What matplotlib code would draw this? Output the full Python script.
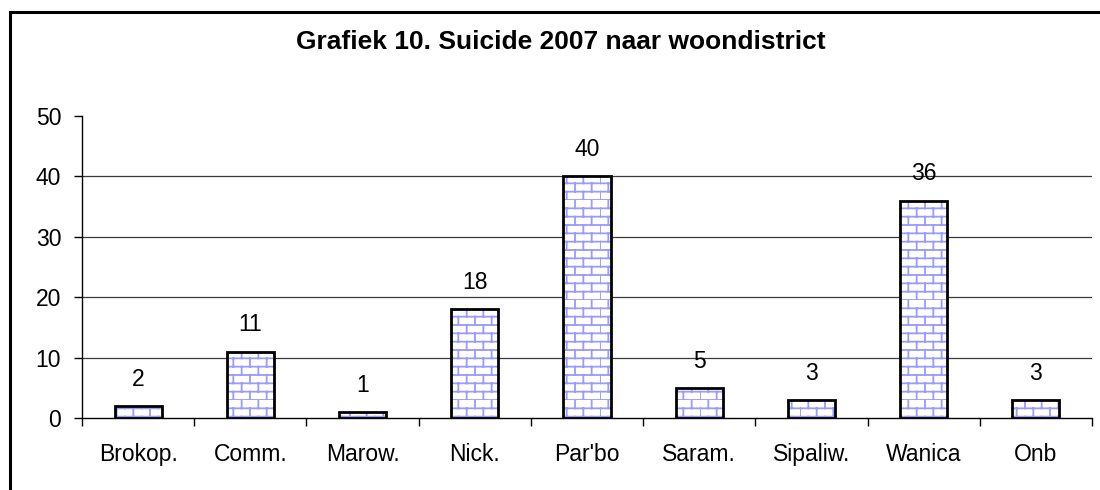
import warnings
import matplotlib
matplotlib.use('Agg')
import matplotlib.pyplot as plt
from matplotlib import hatch as mhatch
from matplotlib.path import Path
from matplotlib.patches import Rectangle

warnings.filterwarnings('ignore')

# Data
districts = ['Brokop.', 'Comm.', 'Marow.', 'Nick.', "Par'bo", 'Saram.', 'Sipaliw.', 'Wanica', 'Onb']
suicides = [2, 11, 1, 18, 40, 5, 3, 36, 3]
y_ticks = [0, 10, 20, 30, 40, 50]
title = 'Grafiek 10. Suicide 2007 naar woondistrict'


# Brick wall hatch, matplotlib has no such pattern so register one for 'B'
class BrickHatch(mhatch.HatchPatternBase):
    def __init__(self, hatch, density):
        self.rows = 12 if 'B' in hatch else 0
        self.cols = 6
        self.num_lines = self.rows * (1 + self.cols)
        self.num_vertices = self.num_lines * 2

    def set_vertices_and_codes(self, vertices, codes):
        h = 1.0 / self.rows
        i = 0
        for r in range(self.rows):
            y0 = r * h
            vertices[i] = (0, y0)
            vertices[i + 1] = (1, y0)
            i += 2
            shift = 0.5 * (r % 2) / self.cols
            for c in range(self.cols):
                x = c / self.cols + shift
                vertices[i] = (x, y0)
                vertices[i + 1] = (x, y0 + h)
                i += 2
        codes[0::2] = Path.MOVETO
        codes[1::2] = Path.LINETO


mhatch._hatch_types.append(BrickHatch)

plt.rcParams['font.family'] = ['Liberation Sans', 'DejaVu Sans']
plt.rcParams['hatch.linewidth'] = 1.3

fig = plt.figure(figsize=(11, 4.9), dpi=100)
ax = fig.add_axes([82 / 1100, 72 / 490, 1010 / 1100, 302 / 490])

x = list(range(len(districts)))
# hatched fill, then black outline on top
ax.bar(x, suicides, width=0.42, color='white', edgecolor='#9a9aff', linewidth=0,
       hatch='B', zorder=3)
ax.bar(x, suicides, width=0.42, fill=False, edgecolor='black', linewidth=2.0, zorder=4)

for xi, v in zip(x, suicides):
    ax.annotate(str(v), (xi, v), xytext=(0, 14.5), textcoords='offset points',
                ha='center', va='baseline', fontsize=16.5)

ax.set_xlim(-0.5, len(districts) - 0.5)
ax.set_ylim(0, 50)
ax.set_yticks(y_ticks)
ax.set_yticklabels([str(t) for t in y_ticks], fontsize=16.5)

# ticks at category boundaries, labels at centres
ax.set_xticks([i - 0.5 for i in range(len(districts) + 1)])
ax.set_xticklabels([])
ax.set_xticks(x, minor=True)
ax.set_xticklabels(districts, minor=True, fontsize=16.5)
ax.tick_params(axis='x', which='major', length=6, width=1, direction='out')
ax.tick_params(axis='x', which='minor', length=0, pad=18)
ax.tick_params(axis='y', length=6, width=1, direction='out', pad=9)

for yt in y_ticks[1:-1]:
    ax.axhline(yt, color='#3a3a3a', linewidth=0.9, zorder=1)

for s in ['top', 'right']:
    ax.spines[s].set_visible(False)
ax.spines['left'].set_linewidth(1)
ax.spines['bottom'].set_linewidth(1)

fig.text(561 / 1100, 1 - 42 / 490, title, ha='center', va='center',
         fontsize=19, fontweight='bold')

# outer chart frame, runs off the right and bottom edge
fig.add_artist(Rectangle((10 / 1100, -0.2), 1.2, 1.2 - 12 / 490, transform=fig.transFigure,
                         fill=False, edgecolor='black', linewidth=2.2))

fig.savefig('out.png', dpi=100)
